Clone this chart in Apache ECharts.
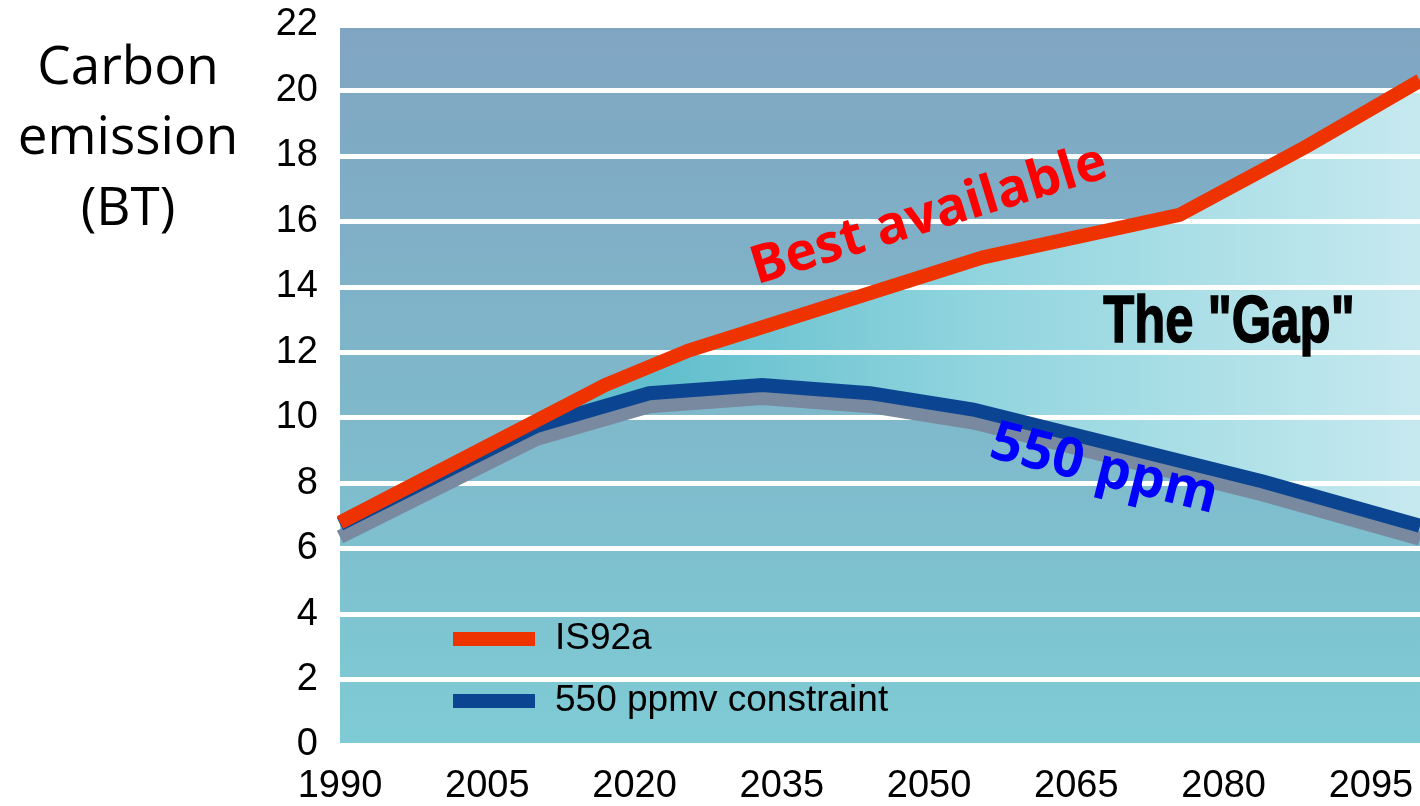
<!DOCTYPE html>
<html><head><meta charset="utf-8">
<script src="https://cdn.jsdelivr.net/npm/echarts@6/dist/echarts.min.js"></script>
<style>html,body{margin:0;padding:0;background:#fff}#c{width:1420px;height:806px}</style>
</head><body><div id="c"></div>
<script>
// ---- data ----
const xTicks = [1990, 2005, 2020, 2035, 2050, 2065, 2080, 2095];
const yTicks = [0, 2, 4, 6, 8, 10, 12, 14, 16, 18, 20, 22];
const seriesNames = ['IS92a', '550 ppmv constraint'];
const redYears  = [1990, 2017, 2025.5, 2055.5, 2075.5, 2088.5, 2100];
const redValues = [6.8, 11.0, 12.05, 14.9, 16.2, 18.3, 20.3];
const blueYears  = [1990, 2010, 2021.5, 2033, 2044, 2054.5, 2084, 2100];
const blueValues = [6.75, 9.75, 10.75, 11.0, 10.75, 10.25, 8.05, 6.7];
const axisTitle = ['Carbon', 'emission', '(BT)'];
const annotations = ['Best available', 'The "Gap"', '550 ppm'];

const RED = '#ee3300', BLUE = '#0b4591';
const pairs = (xs, ys) => xs.map((x, i) => [x, ys[i]]);
const redData = pairs(redYears, redValues);
const blueData = pairs(blueYears, blueValues);

const chart = echarts.init(document.getElementById('c'), null, {renderer: 'canvas'});
const G = echarts.graphic;

const option = {
  animation: false,
  grid: {
    left: 340, right: 0, top: 25, bottom: 61, show: true, borderWidth: 0,
    backgroundColor: new G.LinearGradient(0, 0, 0, 1, [
      {offset: 0, color: '#80a5c2'},
      {offset: 0.5, color: '#7fb7ca'},
      {offset: 1, color: '#7ecbd5'}
    ])
  },
  xAxis: {
    type: 'value', min: xTicks[0], max: 2100, interval: 15,
    axisLine: {show: false}, axisTick: {show: false}, splitLine: {show: false},
    axisLabel: {
      margin: 23, fontSize: 38, color: '#000', fontFamily: 'Liberation Sans, Arial, sans-serif',
      showMaxLabel: false,
      formatter: v => xTicks.indexOf(v) >= 0 ? String(v) : ''
    }
  },
  yAxis: {
    type: 'value', min: yTicks[0], max: yTicks[yTicks.length - 1], interval: 2, z: 3,
    axisLine: {show: false}, axisTick: {show: false},
    splitLine: {show: true, lineStyle: {color: '#ffffff', width: 5}},
    axisLabel: {margin: 22, fontSize: 38, color: '#000', fontFamily: 'Liberation Sans, Arial, sans-serif'}
  },
  legend: {
    data: seriesNames, orient: 'vertical', left: 453, top: 618, itemGap: 20,
    icon: 'rect', itemWidth: 82, itemHeight: 14, padding: 0,
    lineStyle: {width: 0, shadowColor: 'transparent', shadowOffsetY: 0, shadowBlur: 0},
    itemStyle: {shadowColor: 'transparent', shadowOffsetY: 0, shadowBlur: 0, borderWidth: 0},
    textStyle: {fontSize: 37, color: '#000', fontFamily: 'Liberation Sans, Arial, sans-serif', padding: [0, 0, 0, 15], lineHeight: 42},
    selectedMode: false
  },
  series: [
    {
      type: 'custom', name: 'gap', z: 1, silent: true,
      data: [[redYears[0], redValues[0]]],
      renderItem: (params, api) => {
        const pts = redData.map(p => api.coord(p))
          .concat(blueData.slice().reverse().map(p => api.coord(p)));
        return {
          type: 'polygon', shape: {points: pts},
          style: {fill: new G.LinearGradient(0, 0, 1, 0, [
            {offset: 0, color: '#5fbccb'},
            {offset: 0.3, color: '#62bfcd'},
            {offset: 0.6, color: '#92d5df'},
            {offset: 1, color: '#c6e9ef'}
          ])}
        };
      }
    },
    {
      type: 'line', name: seriesNames[1], z: 4, data: blueData, showSymbol: false, symbol: 'none',
      color: BLUE, itemStyle: {color: BLUE},
      lineStyle: {color: BLUE, width: 14, join: 'miter', shadowColor: '#7889a0', shadowOffsetY: 13, shadowBlur: 0}
    },
    {
      type: 'line', name: seriesNames[0], z: 5, data: redData, showSymbol: false, symbol: 'none',
      color: RED, itemStyle: {color: RED},
      lineStyle: {color: RED, width: 14, join: 'miter'}
    }
  ],
  graphic: [
    {type: 'text', x: 128, y: 69, style: {text: axisTitle[0], fontSize: 53, fontFamily: 'Open Sans', fill: '#000', align: 'center', verticalAlign: 'middle'}},
    {type: 'text', x: 128, y: 139, style: {text: axisTitle[1], fontSize: 53, fontFamily: 'Open Sans', fill: '#000', align: 'center', verticalAlign: 'middle'}},
    {type: 'text', x: 128, y: 210, style: {text: axisTitle[2], fontSize: 53, fontFamily: 'Open Sans', fill: '#000', align: 'center', verticalAlign: 'middle'}},
    {type: 'text', x: 929, y: 216, rotation: 17 * Math.PI / 180, z: 10,
      style: {text: annotations[0], fontSize: 53, fontWeight: 'bold', fontFamily: 'Open Sans', fill: '#ff0000', align: 'center', verticalAlign: 'middle'}},
    {type: 'text', x: 1229, y: 324, scaleX: 0.77, z: 10,
      style: {text: annotations[1], fontSize: 66, fontWeight: 'bold', fontFamily: 'Liberation Sans', fill: '#000', stroke: '#000', lineWidth: 1.5, align: 'center', verticalAlign: 'middle'}},
    {type: 'text', x: 1104, y: 470, rotation: -14 * Math.PI / 180, z: 10,
      style: {text: annotations[2], fontSize: 55, fontWeight: 'bold', fontFamily: 'Open Sans', fill: '#0000ff', align: 'center', verticalAlign: 'middle'}}
  ]
};
chart.setOption(option);
</script>
</body></html>
